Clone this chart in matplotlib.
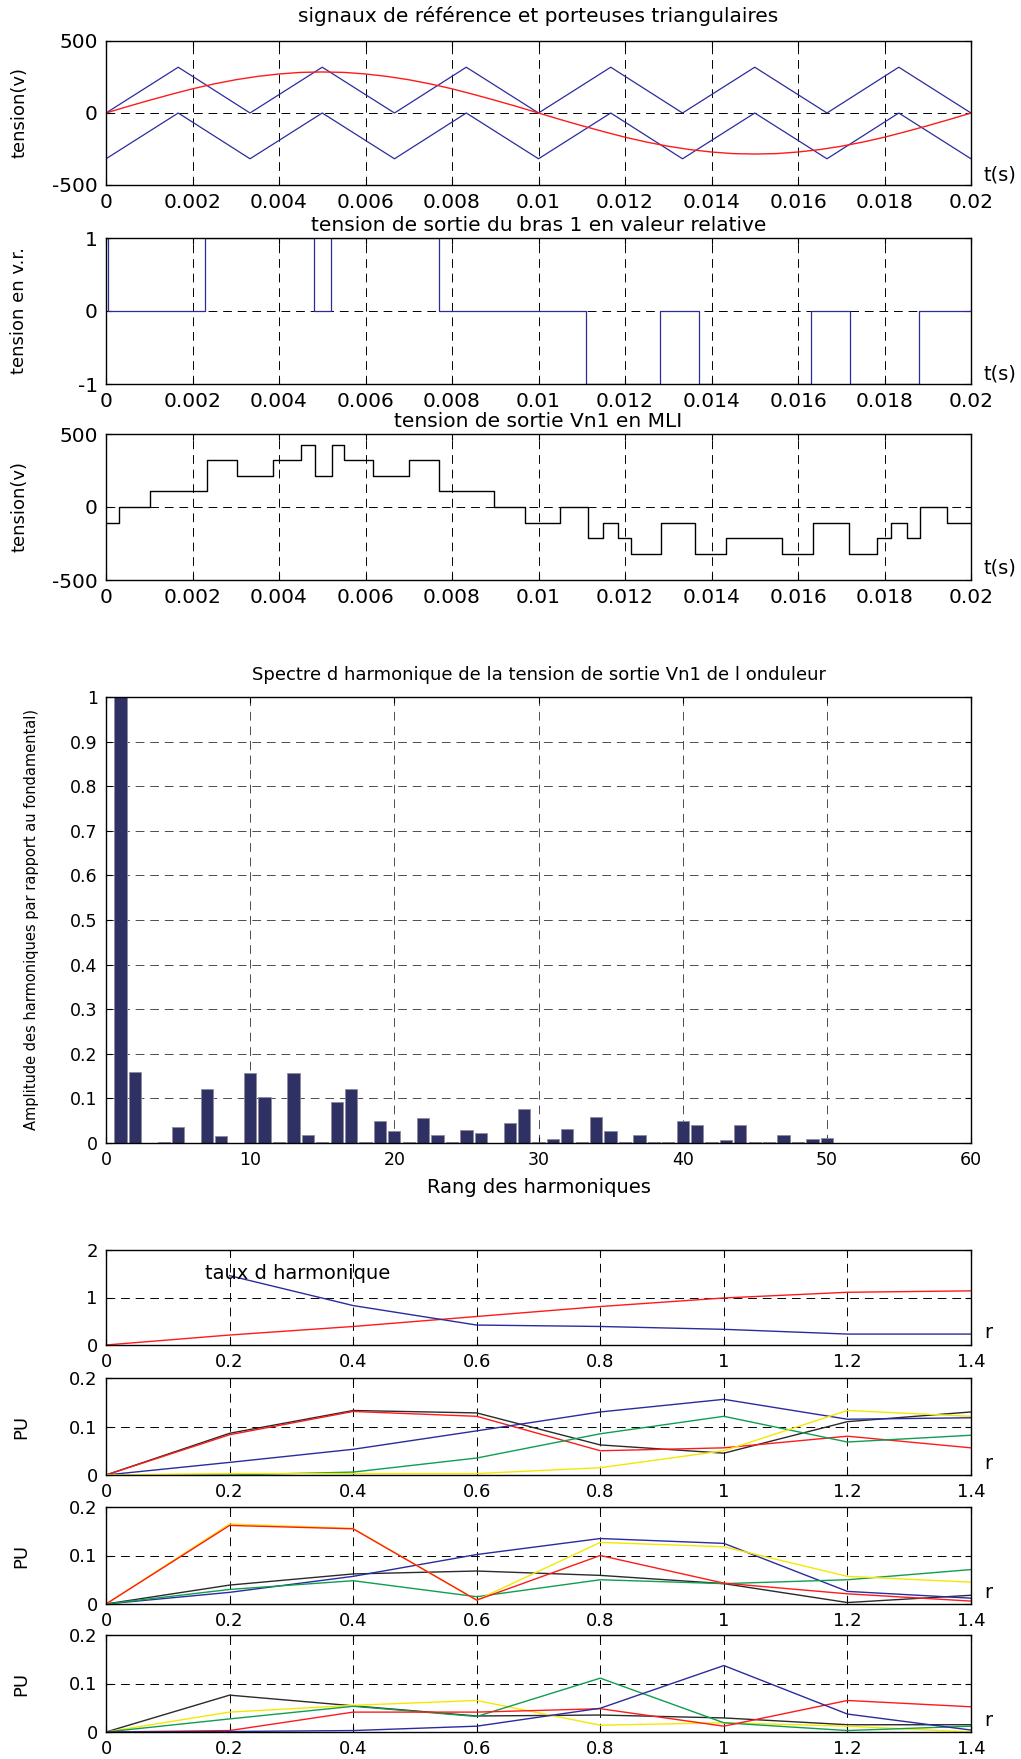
import matplotlib
matplotlib.use("Agg")
import matplotlib.pyplot as plt
import numpy as np

# ---- panel 1: reference sine + triangular carriers (V, t in s)
ref_signal = [0, 45, 88, 129, 168, 202, 231, 254, 271, 282, 285, 282, 271, 254,
              231, 202, 168, 129, 88, 45, 0, -45, -88, -129, -168, -202, -231,
              -254, -271, -282, -285, -282, -271, -254, -231, -202, -168, -129,
              -88, -45, 0]
t_ref = np.linspace(0, 0.02, len(ref_signal))

t_carrier = [0, 0.00167, 0.00333, 0.005, 0.00667, 0.00833, 0.01, 0.01167,
             0.01333, 0.015, 0.01667, 0.01833, 0.02]
carrier_up = [0, 318, 0, 318, 0, 318, 0, 318, 0, 318, 0, 318, 0]
carrier_low = [-318, 0, -318, 0, -318, 0, -318, 0, -318, 0, -318, 0, -318]

# ---- panel 2: arm 1 output (relative value), step changes
t_arm = [0, 0.00005, 0.0023, 0.0048, 0.0052, 0.0077, 0.0111, 0.0128, 0.0137,
         0.0163, 0.0172, 0.0188, 0.02]
v_arm = [1, 0, 1, 0, 1, 0, -1, 0, -1, 0, -1, 0, 0]

# ---- panel 3: Vn1 PWM output, step changes
t_vn1 = [0, 0.0003, 0.00102, 0.00233, 0.00303, 0.00387, 0.0045, 0.00483,
         0.00523, 0.00551, 0.00617, 0.0070, 0.0077, 0.00898, 0.00968, 0.0105,
         0.01114, 0.01148, 0.01184, 0.01215, 0.01283, 0.01361, 0.01434,
         0.01562, 0.01634, 0.01718, 0.01782, 0.01815, 0.01851, 0.01883,
         0.01944, 0.02]
v_vn1 = [-107, 0, 107, 320, 213, 320, 427, 213, 427, 320, 213, 320, 107, 0,
         -107, 0, -213, -107, -213, -320, -107, -320, -213, -320, -107, -320,
         -213, -107, -213, 0, -107, -107]

# ---- panel 4: harmonic spectrum (rank 1..60)
harm_rank = list(range(1, 61))
harm_amp = [1.0, 0.159, 0.0, 0.002, 0.036, 0.0, 0.121, 0.015, 0.001, 0.156,
            0.104, 0.002, 0.156, 0.018, 0.002, 0.092, 0.121, 0.002, 0.050, 0.026,
            0.002, 0.056, 0.018, 0.002, 0.030, 0.023, 0.001, 0.045, 0.077, 0.002,
            0.009, 0.032, 0.002, 0.059, 0.026, 0.002, 0.018, 0.002, 0.002, 0.050,
            0.041, 0.002, 0.006, 0.041, 0.002, 0.002, 0.018, 0.002, 0.008, 0.011,
            0.001, 0.001, 0.001, 0.001, 0.001, 0.001, 0.001, 0.001, 0.001, 0.001]

# ---- panels 5-8: versus modulation ratio r
r = [0, 0.2, 0.4, 0.6, 0.8, 1.0, 1.2, 1.4]
r_thd = [0.2, 0.4, 0.6, 0.8, 1.0, 1.2, 1.4]
fund_red = [0, 0.21, 0.39, 0.60, 0.81, 0.99, 1.11, 1.14]
thd_blue = [1.46, 0.83, 0.42, 0.39, 0.33, 0.23, 0.23]

pu6 = {
    "black":  [0, 0.086, 0.133, 0.128, 0.062, 0.045, 0.110, 0.130],
    "red":    [0, 0.083, 0.131, 0.121, 0.050, 0.056, 0.080, 0.056],
    "blue":   [0, 0.026, 0.053, 0.091, 0.130, 0.156, 0.115, 0.118],
    "green":  [0, 0.000, 0.006, 0.035, 0.085, 0.121, 0.068, 0.082],
    "yellow": [0, 0.003, 0.003, 0.003, 0.015, 0.050, 0.133, 0.121],
}
pu7 = {
    "black":  [0, 0.039, 0.062, 0.068, 0.059, 0.042, 0.003, 0.018],
    "blue":   [0, 0.024, 0.057, 0.102, 0.135, 0.125, 0.026, 0.012],
    "green":  [0, 0.030, 0.048, 0.015, 0.050, 0.042, 0.050, 0.071],
    "yellow": [0, 0.165, 0.156, 0.008, 0.127, 0.118, 0.057, 0.045],
    "red":    [0, 0.162, 0.155, 0.008, 0.100, 0.043, 0.021, 0.006],
}
pu8 = {
    "black":  [0, 0.076, 0.054, 0.033, 0.035, 0.029, 0.015, 0.015],
    "yellow": [0, 0.041, 0.055, 0.065, 0.014, 0.019, 0.012, 0.000],
    "green":  [0, 0.027, 0.053, 0.032, 0.111, 0.019, 0.003, 0.012],
    "red":    [0, 0.003, 0.041, 0.041, 0.048, 0.012, 0.065, 0.052],
    "blue":   [0, 0.001, 0.003, 0.012, 0.049, 0.137, 0.037, 0.004],
}

colors = {"black": "#2a2a2a", "red": "#ff1a1a", "blue": "#2b2b9e",
          "green": "#0f9e50", "yellow": "#f5e800"}

t_ticks = [0, 0.002, 0.004, 0.006, 0.008, 0.01, 0.012, 0.014, 0.016, 0.018, 0.02]
t_labels = ["0", "0.002", "0.004", "0.006", "0.008", "0.01", "0.012", "0.014",
            "0.016", "0.018", "0.02"]
r_labels = ["0", "0.2", "0.4", "0.6", "0.8", "1", "1.2", "1.4"]

W_PX, H_PX = 1021, 1759
fig = plt.figure(figsize=(W_PX / 100, H_PX / 100), dpi=100)
LEFT, RIGHT = 106, 971


def make_axes(top, bottom):
    return fig.add_axes([LEFT / W_PX, 1 - bottom / H_PX,
                         (RIGHT - LEFT) / W_PX, (bottom - top) / H_PX])


def style(ax, fs, grid_color="k"):
    ax.tick_params(direction="in", length=4, labelsize=fs, pad=6,
                   top=True, right=True)
    ax.grid(True, color=grid_color, linestyle=(0, (9, 6)), linewidth=0.7)
    ax.set_axisbelow(True)
    for s in ax.spines.values():
        s.set_linewidth(1.0)


# panel 1
ax1 = make_axes(41, 185)
ax1.plot(t_carrier, carrier_up, color=colors["blue"], lw=0.9)
ax1.plot(t_carrier, carrier_low, color=colors["blue"], lw=0.9)
ax1.plot(t_ref, ref_signal, color=colors["red"], lw=1.0)
ax1.set_xlim(0, 0.02)
ax1.set_ylim(-500, 500)
ax1.set_xticks(t_ticks, t_labels)
ax1.set_yticks([-500, 0, 500], ["-500", "0", "500"])
style(ax1, 14.5)
ax1.set_title("signaux de référence et porteuses triangulaires", fontsize=14.5, pad=14)
ax1.set_ylabel("tension(v)", fontsize=13)
ax1.yaxis.set_label_coords(-0.09, 0.5)
ax1.text(1.015, 0.07, "t(s)", transform=ax1.transAxes, fontsize=14, va="center")

# panel 2
ax2 = make_axes(238, 384)
ax2.plot(t_arm, v_arm, color=colors["blue"], lw=0.9, drawstyle="steps-post")
ax2.set_xlim(0, 0.02)
ax2.set_ylim(-1, 1)
ax2.set_xticks(t_ticks, t_labels)
ax2.set_yticks([-1, 0, 1], ["-1", "0", "1"])
style(ax2, 14.5)
ax2.set_title("tension de sortie du bras 1 en valeur relative", fontsize=14.5, pad=5)
ax2.set_ylabel("tension en v.r.", fontsize=13)
ax2.yaxis.set_label_coords(-0.09, 0.5)
ax2.text(1.015, 0.07, "t(s)", transform=ax2.transAxes, fontsize=14, va="center")

# panel 3
ax3 = make_axes(434, 580)
ax3.plot(t_vn1, v_vn1, color="k", lw=1.0, drawstyle="steps-post")
ax3.set_xlim(0, 0.02)
ax3.set_ylim(-500, 500)
ax3.set_xticks(t_ticks, t_labels)
ax3.set_yticks([-500, 0, 500], ["-500", "0", "500"])
style(ax3, 14.5)
ax3.set_title("tension de sortie Vn1 en MLI", fontsize=14.5, pad=5)
ax3.set_ylabel("tension(v)", fontsize=13)
ax3.yaxis.set_label_coords(-0.09, 0.5)
ax3.text(1.015, 0.08, "t(s)", transform=ax3.transAxes, fontsize=14, va="center")

# panel 4: spectrum
ax4 = make_axes(697, 1143)
ax4.bar(harm_rank, harm_amp, width=0.85, color="#2f3165", edgecolor="#8c8c9c",
        linewidth=0.6)
ax4.set_xlim(0, 60)
ax4.set_ylim(0, 1)
ax4.set_xticks(range(0, 61, 10), [str(v) for v in range(0, 61, 10)])
ytk = [i / 10 for i in range(11)]
ax4.set_yticks(ytk, ["0"] + [f"0.{i}" for i in range(1, 10)] + ["1"])
style(ax4, 12.5, grid_color="0.3")
ax4.set_title("Spectre d harmonique de la tension de sortie Vn1 de l onduleur",
              fontsize=13, pad=12)
ax4.set_xlabel("Rang des harmoniques", fontsize=14, labelpad=6)
ax4.set_ylabel("Amplitude des harmoniques par rapport au fondamental)", fontsize=10.5)
ax4.yaxis.set_label_coords(-0.078, 0.5)

# panel 5: fundamental and THD
ax5 = make_axes(1250, 1345)
ax5.plot(r, fund_red, color=colors["red"], lw=1.0)
ax5.plot(r_thd, thd_blue, color=colors["blue"], lw=1.0)
ax5.set_xlim(0, 1.4)
ax5.set_ylim(0, 2)
ax5.set_xticks(r, r_labels)
ax5.set_yticks([0, 1, 2], ["0", "1", "2"])
style(ax5, 13)
ax5.text(0.16, 1.5, "taux d harmonique", fontsize=14, va="center")
ax5.text(1.015, 0.13, "r", transform=ax5.transAxes, fontsize=14, va="center")

# panels 6-8: harmonic amplitudes in PU
for top, bottom, series in [(1378, 1475, pu6), (1507, 1604, pu7), (1635, 1732, pu8)]:
    ax = make_axes(top, bottom)
    for name, vals in series.items():
        ax.plot(r, vals, color=colors[name], lw=1.0)
    ax.set_xlim(0, 1.4)
    ax.set_ylim(0, 0.2)
    ax.set_xticks(r, r_labels)
    ax.set_yticks([0, 0.1, 0.2], ["0", "0.1", "0.2"])
    style(ax, 13)
    ax.set_ylabel("PU", fontsize=13)
    ax.yaxis.set_label_coords(-0.087, 0.5)
    ax.text(1.015, 0.12, "r", transform=ax.transAxes, fontsize=14, va="center")

fig.savefig("out.png", dpi=100)
